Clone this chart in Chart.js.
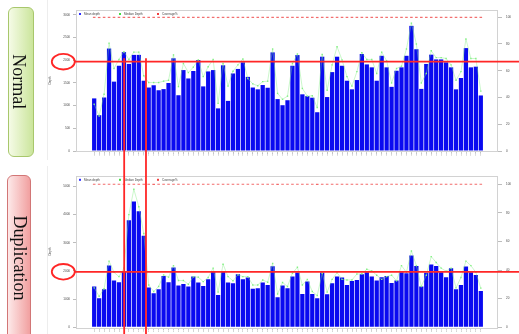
<!DOCTYPE html>
<html>
<head>
<meta charset="utf-8">
<script src="https://cdn.jsdelivr.net/npm/chart.js@4/dist/chart.umd.min.js"></script>
<style>
html, body { margin: 0; padding: 0; background: #fff; width: 519px; height: 334px; overflow: hidden; position: relative; }
canvas { position: absolute; left: 0; }
#cTop { top: 0; }
#cBot { top: 170px; }
.edge { position: absolute; left: 47px; width: 1px; background: #ededed; }
.tag { position: absolute; box-sizing: border-box; border-radius: 6px; }
.tag span { position: absolute; left: 50%; top: 50%; white-space: nowrap; font-family: "Liberation Serif", "DejaVu Serif", serif; font-size: 18px; color: #111; }
#normal { left: 8px; top: 7px; width: 26px; height: 150px; background: linear-gradient(to right, #f5fbe6, #cbe59c); border: 1px solid #a8c76c; }
#normal span { transform: translate(-55%, -51%) rotate(90deg); }
#dup { left: 7px; top: 175px; width: 24px; height: 168px; background: linear-gradient(to right, #fde9e9, #f1a0a0); border: 1px solid #d27676; }
#dup span { transform: translate(-50%, -55%) rotate(90deg); }
</style>
</head>
<body>
<div class="edge" style="top:0;height:160px"></div>
<div class="edge" style="top:166px;height:168px"></div>
<canvas id="cTop" width="519" height="170"></canvas>
<canvas id="cBot" width="519" height="164"></canvas>
<div class="tag" id="normal"><span>Normal</span></div>
<div class="tag" id="dup"><span>Duplication</span></div>
<script>
// Sample names along the x axis
const sampleNames = [
  "S01","S02","S03","S04","S05","S06","S07","S08","S09","S10",
  "S11","S12","S13","S14","S15","S16","S17","S18","S19","S20",
  "S21","S22","S23","S24","S25","S26","S27","S28","S29","S30",
  "S31","S32","S33","S34","S35","S36","S37","S38","S39","S40",
  "S41","S42","S43","S44","S45","S46","S47","S48","S49","S50",
  "S51","S52","S53","S54","S55","S56","S57","S58","S59","S60",
  "S61","S62","S63","S64","S65","S66","S67","S68","S69","S70",
  "S71","S72","S73","S74","S75","S76","S77","S78","S79"
];

// Axis tick values
const normalDepthTicks = [0, 500, 1000, 1500, 2000, 2500, 3000];
const dupDepthTicks = [0, 1000, 2000, 3000, 4000, 5000];
const coverageTicks = [0, 20, 40, 60, 80, 100];

// Normal sample: depth per region
const normalMean = [
  1160, 790, 1180, 2260, 1530, 1880, 2180, 1920, 2120, 2120,
  1550, 1400, 1450, 1340, 1365, 1500, 2045, 1230, 1785, 1600,
  1765, 2005, 1425, 1755, 1785, 940, 1890, 1105, 1710, 1810,
  1955, 1635, 1400, 1360, 1455, 1395, 2175, 1145, 1010, 1120,
  1880, 2115, 1250, 1210, 1175, 855, 2080, 1190, 1740, 2080,
  1880, 1550, 1360, 1565, 2140, 1910, 1845, 1550, 2100, 1845,
  1415, 1770, 1845, 2100, 2760, 2245, 1370, 1920, 2125, 2020,
  2020, 1955, 1845, 1360, 1610, 2270, 1845, 1860, 1225
];
const normalMedian = [
  1030, 770, 1250, 2380, 1820, 2020, 2190, 2020, 2180, 2180,
  1660, 1510, 1510, 1510, 1540, 1560, 2120, 1420, 1930, 1730,
  1850, 2010, 1640, 1860, 2020, 1050, 1930, 1430, 1760, 1900,
  2030, 1600, 1480, 1440, 1530, 1540, 2250, 1270, 1140, 1210,
  1930, 2140, 1380, 1210, 1220, 960, 2130, 1340, 1900, 2300,
  2010, 1640, 1430, 1750, 2170, 2020, 2020, 1710, 2180, 1990,
  1500, 1820, 1870, 2250, 2820, 2360, 1500, 1710, 2210, 2060,
  2060, 2040, 1900, 1560, 1750, 2470, 2040, 2040, 1320
];
const normalCoverage = [
  99.9, 99.8, 99.9, 99.9, 99.9, 99.9, 99.9, 99.9, 99.9, 99.9,
  99.9, 99.9, 99.9, 99.9, 99.9, 99.9, 99.9, 99.9, 99.9, 99.9,
  99.9, 99.9, 99.9, 99.9, 99.9, 99.8, 99.9, 99.9, 99.9, 99.9,
  99.9, 99.9, 99.9, 99.9, 99.9, 99.9, 99.9, 99.9, 99.9, 99.9,
  99.9, 99.9, 99.9, 99.9, 99.9, 99.8, 99.9, 99.9, 99.9, 99.9,
  99.9, 99.9, 99.9, 99.9, 99.9, 99.9, 99.9, 99.9, 99.9, 99.9,
  99.9, 99.9, 99.9, 99.9, 99.9, 99.9, 99.9, 99.9, 99.9, 99.9,
  99.9, 99.9, 99.9, 99.9, 99.9, 99.9, 99.9, 99.9, 99.9
];

// Duplication sample: depth per region
const dupMean = [
  1450, 1035, 1355, 2190, 1660, 1600, 1960, 3800, 4470, 4120,
  3250, 1415, 1210, 1355, 1825, 1600, 2120, 1485, 1540, 1450,
  1800, 1590, 1470, 1705, 1980, 1150, 1960, 1590, 1565, 1885,
  1705, 1765, 1365, 1390, 1590, 1505, 2165, 1070, 1485, 1390,
  1800, 1945, 1185, 1625, 1185, 1035, 1945, 1175, 1565, 1800,
  1765, 1505, 1645, 1680, 1880, 1950, 1800, 1660, 1780, 1820,
  1570, 1660, 1950, 1920, 2550, 2180, 1450, 1940, 2230, 2180,
  1950, 1780, 2100, 1350, 1500, 2160, 1950, 1860, 1290
];
const dupMedian = [
  1400, 1100, 1370, 2350, 1950, 1800, 2100, 4000, 4900, 4280,
  3330, 1500, 1270, 1450, 1860, 1780, 2190, 1660, 1660, 1530,
  1790, 1780, 1620, 1770, 2100, 1250, 2240, 1800, 1650, 1860,
  1800, 1800, 1500, 1500, 1680, 1600, 2270, 1180, 1590, 1450,
  1920, 2130, 1500, 1700, 1270, 1130, 1920, 1250, 1700, 1940,
  1700, 1680, 1680, 1890, 1900, 2060, 2000, 1850, 1700, 1800,
  1850, 1650, 2190, 1950, 2710, 2190, 1450, 1850, 2510, 2300,
  2100, 1990, 2100, 1400, 1770, 2350, 2190, 1950, 1390
];
const dupCoverage = [
  99.9, 99.9, 99.9, 99.9, 99.9, 99.9, 99.9, 99.9, 99.9, 99.9,
  99.9, 99.9, 99.8, 99.9, 99.9, 99.9, 99.9, 99.9, 99.9, 99.9,
  99.9, 99.9, 99.9, 99.9, 99.9, 99.9, 99.9, 99.9, 99.9, 99.9,
  99.9, 99.9, 99.9, 99.9, 99.9, 99.9, 99.9, 99.8, 99.9, 99.9,
  99.9, 99.9, 99.9, 99.9, 99.9, 99.8, 99.9, 99.9, 99.9, 99.9,
  99.9, 99.9, 99.9, 99.9, 99.9, 99.9, 99.9, 99.9, 99.9, 99.9,
  99.9, 99.9, 99.9, 99.9, 99.9, 99.9, 99.9, 99.9, 99.9, 99.9,
  99.9, 99.9, 99.9, 99.9, 99.9, 99.9, 99.9, 99.9, 99.9
];

// Depth cut-off and the span of regions called as duplicated
const depthCutoff = 1970;
const dupSpan = [7.05, 11.45];

const TINY = { family: '"Liberation Sans", Arial, sans-serif', size: 3 };

// Draws the plot frame, an in-plot legend, and the red cut-off / span markers
const panelDecor = {
  id: 'panelDecor',
  beforeDatasetsDraw(chart) {
    const a = chart.chartArea, ctx = chart.ctx;
    ctx.save();
    ctx.strokeStyle = '#d2d2d2';
    ctx.lineWidth = 1;
    ctx.strokeRect(Math.round(a.left) + 0.5, Math.round(a.top) + 0.5,
                   Math.round(a.right - a.left) - 1, Math.round(a.bottom - a.top));
    ctx.restore();
  },
  afterDatasetsDraw(chart, args, opts) {
    const a = chart.chartArea, ctx = chart.ctx, sc = chart.scales;
    ctx.save();
    // legend inside the plot box
    const slots = [3, 43, 81];
    ctx.font = '3px "Liberation Sans", Arial, sans-serif';
    ctx.textBaseline = 'middle';
    chart.data.datasets.forEach((ds, i) => {
      const x = a.left + slots[i], y = a.top + 4;
      ctx.fillStyle = ds.legendColor;
      ctx.fillRect(x, y - 1, 2, 2);
      ctx.fillStyle = '#444';
      ctx.fillText(ds.label, x + 5, y);
    });
    // cut-off line with ring round its tick label
    const y = sc.y.getPixelForValue(opts.cutoff);
    ctx.strokeStyle = '#ff2626';
    ctx.lineWidth = 1.8;
    ctx.beginPath();
    ctx.moveTo(a.left - 1, y);
    ctx.lineTo(chart.width, y);
    ctx.stroke();
    ctx.beginPath();
    ctx.ellipse(a.left - 12.7, y, 11.5, 7.8, 0, 0, Math.PI * 2);
    ctx.stroke();
    // vertical span markers
    const top = opts.spanFromLine ? y - 3.5 : 0;
    opts.span.forEach(v => {
      const x = sc.x.getPixelForValue(v);
      ctx.beginPath();
      ctx.moveTo(x, top);
      ctx.lineTo(x, chart.height);
      ctx.stroke();
    });
    ctx.restore();
  }
};

function buildPanel(id, mean, median, coverage, yMax, yTicks, y2Max, topPad, xAxisHeight, spanFromLine) {
  const pts = arr => arr.map((v, i) => ({ x: i + 1, y: v }));
  return new Chart(document.getElementById(id), {
    type: 'bar',
    data: {
      datasets: [
        { type: 'bar', label: 'Mean depth', data: pts(mean), yAxisID: 'y',
          backgroundColor: '#0a0af0', borderWidth: 0, categoryPercentage: 1, barPercentage: 0.86,
          legendColor: '#3030ff', order: 2 },
        { type: 'line', label: 'Median Depth', data: pts(median), yAxisID: 'y',
          borderColor: 'rgba(130,235,130,0.7)', borderWidth: 0.6, tension: 0,
          pointStyle: 'rect', pointRadius: 1, pointBackgroundColor: '#84f084', pointBorderWidth: 0,
          legendColor: '#44dd44', order: 1 },
        { type: 'line', label: 'Coverage%', data: pts(coverage), yAxisID: 'y2', showLine: false,
          pointStyle: 'line', pointRadius: 1.3, pointBorderWidth: 1.2, pointBorderColor: '#f26a6a',
          borderColor: '#f26a6a', legendColor: '#f04040', order: 0 }
      ]
    },
    options: {
      responsive: false,
      animation: false,
      events: [],
      layout: { padding: { left: 44, right: 0, top: topPad, bottom: 0 } },
      plugins: {
        legend: { display: false },
        tooltip: { enabled: false },
        panelDecor: { cutoff: depthCutoff, span: dupSpan, spanFromLine: spanFromLine }
      },
      scales: {
        x: {
          type: 'linear', offset: false, min: -2.67, max: 82.47,
          afterBuildTicks: s => { s.ticks = sampleNames.map((_, i) => ({ value: i + 1 })); },
          ticks: { autoSkip: false, minRotation: 90, maxRotation: 90, padding: 1,
                   font: { family: TINY.family, size: 2.1 }, color: '#777',
                   callback: v => sampleNames[v - 1] ?? '' },
          grid: { display: false, drawTicks: false },
          border: { display: false },
          afterFit: s => { s.height = xAxisHeight; }
        },
        y: {
          position: 'left', min: 0, max: yMax,
          ticks: { autoSkip: false, padding: 3, font: TINY, color: '#444', callback: v => String(v) },
          afterBuildTicks: s => { s.ticks = yTicks.map(v => ({ value: v })); },
          grid: { drawOnChartArea: false, tickLength: 3, color: '#bdbdbd' },
          border: { display: false },
          title: { display: true, text: 'Depth', font: TINY, color: '#444', padding: { top: 4, bottom: 0 } },
          afterFit: s => { s.width = 32; }
        },
        y2: {
          position: 'right', min: 0, max: y2Max,
          ticks: { autoSkip: false, padding: 4, font: TINY, color: '#444', callback: v => String(v) },
          afterBuildTicks: s => { s.ticks = coverageTicks.map(v => ({ value: v })); },
          grid: { drawOnChartArea: false, tickLength: 4, color: '#bdbdbd' },
          border: { display: false },
          afterFit: s => { s.width = 21; }
        }
      }
    },
    plugins: [panelDecor]
  });
}

buildPanel('cTop', normalMean, normalMedian, normalCoverage, 3110, normalDepthTicks, 105.4, 10, 19, true);
buildPanel('cBot', dupMean, dupMedian, dupCoverage, 5378, dupDepthTicks, 105.8, 5, 6.7, false);
</script>
</body>
</html>
